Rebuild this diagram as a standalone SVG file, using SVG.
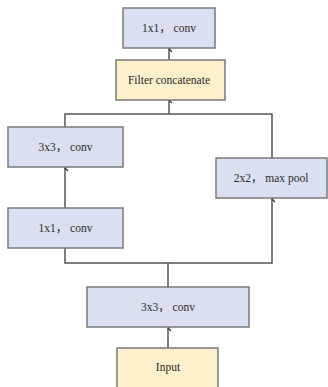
<svg xmlns="http://www.w3.org/2000/svg" width="328" height="387" viewBox="0 0 328 387">
<style>
.b{fill:#dae0f2;stroke:#7a7a7a;stroke-width:1.5}
.y{fill:#fdf0cc;stroke:#7a7a7a;stroke-width:1.5}
text{font-family:"Liberation Serif","Times New Roman","Noto Sans CJK SC",serif;font-size:11.5px;fill:#2a2a2a;text-anchor:middle;dominant-baseline:central}
.c{fill:none;stroke:#555;stroke-width:1.5}
</style>
<defs>
<marker id="a" markerWidth="8" markerHeight="6" refX="4" refY="1" orient="auto-start-reverse" markerUnits="userSpaceOnUse" viewBox="0 0 8 6">
<path d="M1,4 L4,1 L7,4" fill="none" stroke="#333" stroke-width="1.3"/>
</marker>
</defs>
<g id="connectors">
<path class="c" d="M169,60 V49" marker-end="url(#a)"/>
<path class="c" d="M65,127 V114 H272 V158"/>
<path class="c" d="M169,114 V100" marker-end="url(#a)"/>
<path class="c" d="M65,208 V168" marker-end="url(#a)"/>
<path class="c" d="M65,248 V263 H272 V199" marker-end="url(#a)"/>
<path class="c" d="M168,287 V263"/>
<path class="c" d="M168,348 V328" marker-end="url(#a)"/>
</g>
<g id="conv_top"><rect class="b" x="123" y="8" width="92" height="40"/><text x="169" y="28">1x1， conv</text></g>
<g id="concat"><rect class="y" x="116" y="60" width="109" height="40"/><text x="169" y="80">Filter concatenate</text></g>
<g id="conv3_left"><rect class="b" x="8" y="127" width="115" height="40"/><text x="65.5" y="147">3x3， conv</text></g>
<g id="pool"><rect class="b" x="216" y="158" width="111" height="40"/><text x="271" y="178">2x2， max pool</text></g>
<g id="conv1_left"><rect class="b" x="8" y="208" width="115" height="40"/><text x="65.5" y="228">1x1， conv</text></g>
<g id="conv3_mid"><rect class="b" x="87" y="287" width="162" height="40"/><text x="168" y="307">3x3， conv</text></g>
<g id="input"><rect class="y" x="117" y="348" width="101" height="44"/><text x="168" y="367">Input</text></g>
</svg>
